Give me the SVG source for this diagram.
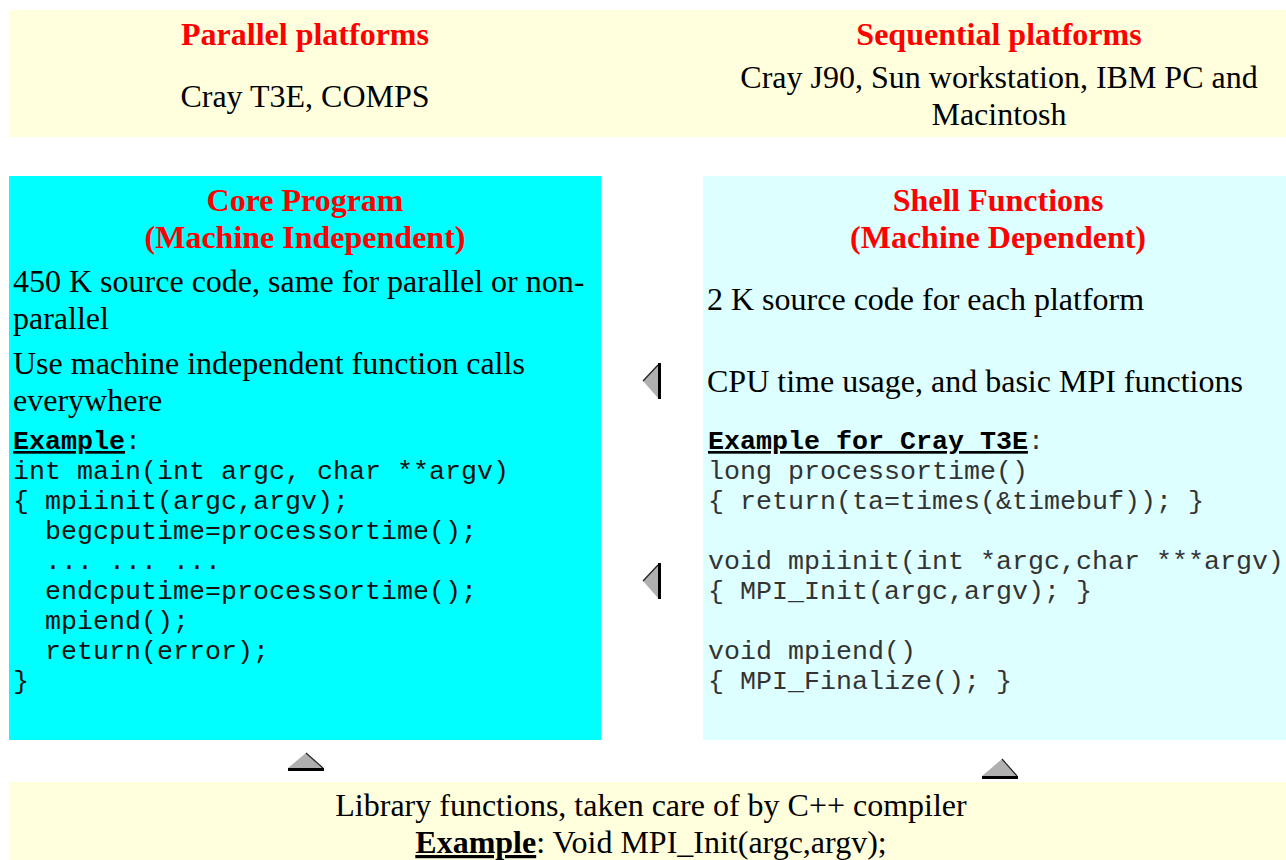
<svg xmlns="http://www.w3.org/2000/svg" width="1286" height="860" viewBox="0 0 1286 860">
<style>
.serif{font-family:"Liberation Serif","Times New Roman",serif;font-size:32px;fill:#000}
.hdr{font-family:"Liberation Serif","Times New Roman",serif;font-size:32px;font-weight:bold;fill:#ff0000}
.mono{font-family:"Liberation Mono","Courier New",monospace;font-size:26.67px;fill:#111;white-space:pre}
.mono2{font-family:"Liberation Mono","Courier New",monospace;font-size:26.67px;fill:#333;white-space:pre}
.ul{font-weight:bold;text-decoration:underline}
.arrow{fill:#b0b0b0}
.edge{fill:none;stroke:#222;stroke-width:1.2}
</style>
<rect width="1286" height="860" fill="#ffffff"/>
<g id="platforms">
  <rect x="9" y="10" width="1277" height="127" fill="#ffffdd"/>
  <text class="hdr" x="305" y="45" text-anchor="middle">Parallel platforms</text>
  <text class="serif" x="305" y="107" text-anchor="middle">Cray T3E, COMPS</text>
  <text class="hdr" x="999" y="45" text-anchor="middle">Sequential platforms</text>
  <text class="serif" x="999" y="88" text-anchor="middle">Cray J90, Sun workstation, IBM PC and</text>
  <text class="serif" x="999" y="125" text-anchor="middle">Macintosh</text>
</g>
<g id="core-program">
  <rect x="9" y="176" width="592" height="564" fill="#00ffff"/>
  <text class="hdr" x="305" y="211" text-anchor="middle">Core Program</text>
  <text class="hdr" x="305" y="248" text-anchor="middle">(Machine Independent)</text>
  <text class="serif" x="13" y="292">450 K source code, same for parallel or non-</text>
  <text class="serif" x="13" y="329">parallel</text>
  <text class="serif" x="13" y="374">Use machine independent function calls</text>
  <text class="serif" x="13" y="411">everywhere</text>
  <text class="mono" x="13" y="449"><tspan class="ul" fill="#000">Example</tspan>:</text>
  <text class="mono" x="13" y="479">int main(int argc, char **argv)</text>
  <text class="mono" x="13" y="509">{ mpiinit(argc,argv);</text>
  <text class="mono" x="13" y="539">  begcputime=processortime();</text>
  <text class="mono" x="13" y="569">  ... ... ...</text>
  <text class="mono" x="13" y="599">  endcputime=processortime();</text>
  <text class="mono" x="13" y="629">  mpiend();</text>
  <text class="mono" x="13" y="659">  return(error);</text>
  <text class="mono" x="13" y="689">}</text>
</g>
<g id="shell-functions">
  <rect x="703" y="176" width="583" height="564" fill="#ddffff"/>
  <text class="hdr" x="998" y="211" text-anchor="middle">Shell Functions</text>
  <text class="hdr" x="998" y="248" text-anchor="middle">(Machine Dependent)</text>
  <text class="serif" x="707" y="310">2 K source code for each platform</text>
  <text class="serif" x="707" y="392">CPU time usage, and basic MPI functions</text>
  <text class="mono2" x="708" y="449"><tspan class="ul" fill="#000">Example for Cray T3E</tspan>:</text>
  <text class="mono2" x="708" y="479">long processortime()</text>
  <text class="mono2" x="708" y="509">{ return(ta=times(&amp;timebuf)); }</text>
  <text class="mono2" x="708" y="569">void mpiinit(int *argc,char ***argv)</text>
  <text class="mono2" x="708" y="599">{ MPI_Init(argc,argv); }</text>
  <text class="mono2" x="708" y="659">void mpiend()</text>
  <text class="mono2" x="708" y="689">{ MPI_Finalize(); }</text>
</g>
<g id="library-functions">
  <rect x="9" y="782" width="1277" height="78" fill="#ffffdd"/>
  <text class="serif" x="651" y="816" text-anchor="middle">Library functions, taken care of by C++ compiler</text>
  <text class="serif" x="651" y="853" text-anchor="middle"><tspan class="ul">Example</tspan>: Void MPI_Init(argc,argv);</text>
</g>
<g id="connectors">
  <g id="arrow-shell-core-1">
    <polygon class="arrow" points="643,381 658,365 658,398"/>
    <polyline class="edge" points="643,381 658,365"/>
    <rect x="658" y="363" width="3" height="36" fill="#000"/>
  </g>
  <g id="arrow-shell-core-2" transform="translate(0,200)">
    <polygon class="arrow" points="643,381 658,365 658,398"/>
    <polyline class="edge" points="643,381 658,365"/>
    <rect x="658" y="363" width="3" height="36" fill="#000"/>
  </g>
  <g id="arrow-lib-core">
    <polygon class="arrow" points="288,768 306,753 323,768"/>
    <polyline class="edge" points="306,753 323,768"/>
    <rect x="288" y="768" width="36" height="3" fill="#000"/>
  </g>
  <g id="arrow-lib-shell">
    <polygon class="arrow" points="982,776 1002,759 1017,776"/>
    <polyline class="edge" points="1002,759 1017,776"/>
    <rect x="982" y="776" width="36" height="3" fill="#000"/>
  </g>
</g>
</svg>
